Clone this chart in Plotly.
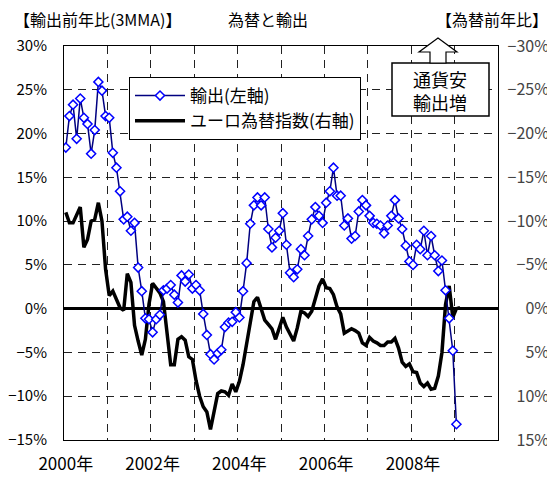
import plotly.graph_objects as go

# ---- data (monthly, index 0 = Jan 2000) ----
export_yoy = [18.4, 22.0, 23.3, 19.4, 24.0, 21.8, 21.1, 17.7, 20.4, 25.9,
              24.9, 22.0, 21.8, 17.8, 16.1, 13.4, 10.2, 10.5, 8.9, 9.8,
              4.7, 2.0, -1.1, -1.2, -2.7, -1.2, -0.7, 2.1, 2.3, 2.7,
              1.6, 0.7, 3.8, 3.1, 3.9, 2.3, 2.7, 2.1, -0.6, -3.0,
              -5.2, -5.8, -5.1, -4.7, -2.1, -1.6, -1.5, -0.4, -1.0, 2.0,
              5.2, 9.7, 11.8, 12.7, 11.8, 12.7, 9.1, 7.0, 8.1, 8.9,
              10.9, 7.3, 4.1, 3.6, 4.5, 6.8, 6.1, 8.3, 10.2, 11.6,
              10.6, 9.8, 12.1, 13.4, 16.1, 12.9, 12.9, 9.5, 10.3, 8.0,
              8.3, 11.1, 12.4, 11.8, 10.6, 9.8, 9.7, 9.5, 8.6, 9.5,
              10.6, 12.4, 10.3, 9.1, 7.2, 5.4, 5.0, 7.3, 6.8, 8.9,
              6.1, 8.3, 6.1, 4.3, 5.5, 2.1, -1.1, -4.8, -13.2]

euro_yoy = [-11.0, -9.8, -9.8, -10.6, -11.6, -7.0, -7.9, -10.0, -10.2, -12.1,
            -10.0, -4.5, -1.5, -2.0, -1.0, -0.1, 0.2, -4.0, -3.0, 1.9,
            3.7, 5.3, 3.5, -0.5, -2.9, -2.3, -1.8, -0.8, 2.5, 6.4,
            6.4, 3.5, 3.2, 3.6, 5.5, 5.8, 8.2, 10.0, 11.2, 11.8,
            13.8, 11.8, 9.7, 9.4, 9.5, 9.9, 8.6, 9.5, 8.3, 6.4,
            3.8, 1.2, -0.8, -1.3, 0.0, 1.3, 1.8, 2.3, 3.5, 2.2,
            1.0, 2.1, 3.0, 3.7, 2.2, 0.3, 0.5, 0.9, 0.3, -1.2,
            -2.6, -3.4, -2.4, -2.3, -1.6, -0.2, 0.6, 2.8, 2.5, 2.3,
            2.5, 2.8, 3.9, 4.2, 3.3, 3.7, 3.9, 4.2, 4.2, 3.8,
            3.8, 3.4, 4.5, 6.1, 6.6, 6.3, 7.2, 7.3, 8.5, 8.9,
            8.5, 9.2, 9.1, 7.7, 5.0, -0.5, -2.6, 1.0, 0.0, -0.1]

year_tick_vals = [0, 24, 48, 72, 96]
year_tick_text = ["2000年", "2002年", "2004年", "2006年", "2008年"]
year_bounds = [11.5 + 12 * k for k in range(9)]
left_ticks = list(range(-15, 31, 5))
left_text = [f"{v}%".replace("-", "\u2212") for v in left_ticks]
right_ticks = list(range(-30, 16, 5))
right_text = [f"{v}%".replace("-", "\u2212") for v in right_ticks]

# ---- geometry helpers (page pixels -> paper fractions; page has 8px body offset) ----
OFF = 8
W, H = 555, 479
ML = 64 - OFF            # plot left at page x=64
MT = 46 - OFF            # plot top at page y=46
MB = H - (440 - OFF)     # plot bottom at page y=440
MR = W - (552 - OFF)     # paper right edge at page x=552
PW = W - ML - MR
PH = H - MT - MB


def px(x):
    return (x - OFF - ML) / PW


def py(y):
    return (H - MB - (y - OFF)) / PH


FONT = "Noto Sans CJK JP"
GRID = "#222222"
DASH = "8px,6px"

fig = go.Figure()
# euro index on right (reversed) axis
fig.add_trace(go.Scatter(
    x=list(range(len(euro_yoy))), y=euro_yoy, xaxis="x", yaxis="y",
    name="ユーロ為替指数(右軸)", mode="lines",
    line=dict(color="black", width=3.5), legendrank=2))
# exports on left axis (overlay, drawn on top)
fig.add_trace(go.Scatter(
    x=list(range(len(export_yoy))), y=export_yoy, xaxis="x", yaxis="y2",
    name="輸出(左軸)", mode="lines+markers",
    line=dict(color="#000080", width=1.5),
    marker=dict(symbol="diamond", size=7, color="white",
                line=dict(color="#0000FF", width=1.5)),
    legendrank=1))

fig.update_layout(
    template="none",
    width=W, height=H,
    margin=dict(l=ML, r=MR, t=MT, b=MB, autoexpand=False),
    paper_bgcolor="white", plot_bgcolor="white",
    font=dict(family=FONT, size=15, color="black"),
    xaxis=dict(domain=[0, px(498)], range=[-0.5, 119.5], automargin=False,
               anchor="y2",
               tickmode="array", tickvals=year_tick_vals, ticktext=year_tick_text,
               showgrid=False, zeroline=False, showline=True, linecolor="black",
               linewidth=1, mirror=True, ticks="", ticklabelstandoff=9,
               tickfont=dict(size=17),
               minor=dict(tickmode="array", tickvals=year_bounds, showgrid=True,
                          gridcolor=GRID, griddash=DASH, gridwidth=1, ticks="")),
    yaxis=dict(range=[15, -30], automargin=False,
               side="right", anchor="free", position=1.0,
               ticklabelposition="inside", ticklabeloverflow="allow",
               tickmode="array", tickvals=right_ticks, ticktext=right_text,
               showgrid=True, gridcolor=GRID, griddash=DASH, gridwidth=1,
               zeroline=True, zerolinecolor="black", zerolinewidth=3,
               showline=False, ticks="", tickfont=dict(size=16)),
    yaxis2=dict(range=[-15, 30], automargin=False, overlaying="y",
                side="left", anchor="x",
                tickmode="array", tickvals=left_ticks, ticktext=left_text,
                showgrid=False, zeroline=False, showline=True, linecolor="black",
                linewidth=1, mirror=True, ticks="", ticklabelstandoff=13,
                tickfont=dict(size=15)),
    legend=dict(x=px(129), y=py(77), xanchor="left", yanchor="top",
                bgcolor="white", bordercolor="black", borderwidth=1,
                font=dict(size=17), traceorder="normal", itemwidth=50),
    showlegend=True,
)

fig.add_annotation(text="【輸出前年比(3MMA)】", xref="paper", yref="paper",
                   x=px(12), y=py(19), xanchor="left", yanchor="middle",
                   showarrow=False, font=dict(size=16))
fig.add_annotation(text="為替と輸出", xref="paper", yref="paper",
                   x=px(268), y=py(19), xanchor="center", yanchor="middle",
                   showarrow=False, font=dict(size=16))
fig.add_annotation(text="【為替前年比】", xref="paper", yref="paper",
                   x=px(550), y=py(19), xanchor="right", yanchor="middle",
                   showarrow=False, font=dict(size=16))

# callout box with arrow
fig.add_shape(type="rect", xref="paper", yref="paper",
              x0=px(392), x1=px(489), y0=py(116), y1=py(63),
              fillcolor="white", line=dict(color="black", width=1.5), layer="above")
arrow_pts = [(438, 38), (457, 52), (446, 52), (446, 63), (430, 63), (430, 52), (419, 52)]
path = "M " + " L ".join(f"{px(a):.5f},{py(b):.5f}" for a, b in arrow_pts) + " Z"
fig.add_shape(type="path", xref="paper", yref="paper", path=path,
              fillcolor="white", line=dict(color="black", width=1.2), layer="above")
fig.add_annotation(text="通貨安<br>輸出増", xref="paper", yref="paper",
                   x=px(440), y=py(90), xanchor="center", yanchor="middle",
                   showarrow=False, font=dict(size=18))

fig.write_html("out.html")
